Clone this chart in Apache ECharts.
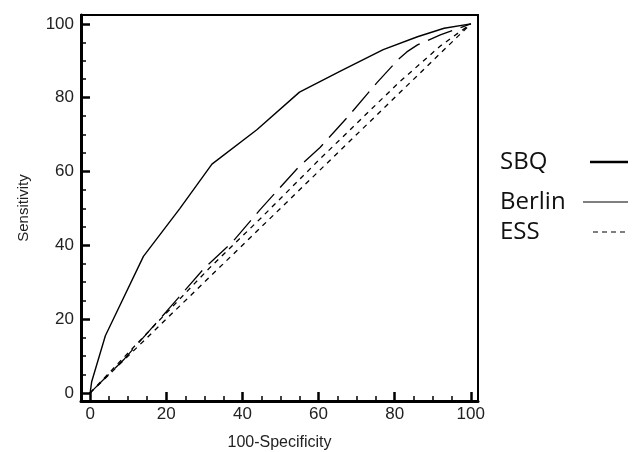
<!DOCTYPE html>
<html>
<head>
<meta charset="utf-8">
<script src="https://cdn.jsdelivr.net/npm/echarts@6/dist/echarts.min.js"></script>
<style>html,body{margin:0;padding:0;background:#fff}#c{width:633px;height:452px}</style>
</head>
<body>
<div id="c"></div>
<script>
// ---- data ----
const sbqX = [0, 0.4, 4, 14, 23.6, 32, 43.8, 55, 66, 77, 86, 93, 100];
const sbqY = [0, 3, 15.5, 37, 50, 62, 71.3, 81.5, 87.3, 93, 96.5, 98.8, 100];
const berlinX = [0, 9, 20, 30, 37.5, 44.6, 54.6, 60.4, 67.7, 75.3, 80.8, 83.2, 86, 92, 100];
const berlinY = [0, 9.2, 22, 33.8, 41, 49.6, 61, 66.5, 74.8, 84, 90.2, 92.4, 94.3, 97, 100];
const essX = [0, 12, 31.5, 45, 60, 81, 92, 100];
const essY = [0, 13, 34, 47.5, 63, 84, 94, 100];
const chanceX = [0, 100];
const chanceY = [0, 100];
const majorTicks = [0, 20, 40, 60, 80, 100];
const minorTicks = [5, 10, 15, 25, 30, 35, 45, 50, 55, 65, 70, 75, 85, 90, 95];
const seriesNames = ['SBQ', 'Berlin', 'ESS'];

const zip = (xs, ys) => xs.map((x, i) => [x, ys[i]]);
const X_MIN = -2.4, X_MAX = 101.9, Y_MIN = -2.2, Y_MAX = 102.4;
const labelFont = {fontFamily: 'Liberation Sans, Arial, sans-serif', fontSize: 17, color: '#222'};
const LEG_FONT = 'Open Sans';
const LEG_SIZE = 24;

const ctx = document.createElement('canvas').getContext('2d');
ctx.font = LEG_SIZE + 'px "' + LEG_FONT + '"';
const textW = s => ctx.measureText(s).width;

const chart = echarts.init(document.getElementById('c'), null, {renderer: 'canvas'});

// text starts at x=500, line sample from iconStart to 628
function legendFor(name, top, iconStart, padBottom, lineStyle) {
  const pad = Math.max(0, iconStart - 5 - 500 - textW(name));
  return {
    data: [{name: name, lineStyle: lineStyle,
            itemStyle: {color: 'rgba(0,0,0,0)', borderColor: 'rgba(0,0,0,0)', borderWidth: 0}}],
    orient: 'vertical',
    align: 'right',
    left: 500,
    top: top,
    itemWidth: 628 - iconStart,
    itemHeight: 14,
    padding: 0,
    selectedMode: false,
    textStyle: {fontFamily: LEG_FONT, fontSize: LEG_SIZE, color: '#111', padding: [0, pad, padBottom, 0]}
  };
}

const gridBox = {left: 81, right: 155, top: 15, bottom: 51, outerBoundsMode: 'none', containLabel: false};
const minorAxis = (extra) => Object.assign({
  type: 'value', gridIndex: 1,
  axisLine: {show: false, onZero: false},
  axisTick: {show: true, inside: true, length: 5, customValues: minorTicks, lineStyle: {color: '#000', width: 1.5}},
  axisLabel: {show: false},
  splitLine: {show: false}
}, extra);

chart.setOption({
  animation: false,
  backgroundColor: '#fff',
  grid: [
    Object.assign({show: true, borderColor: '#000', borderWidth: 2, backgroundColor: 'transparent'}, gridBox),
    Object.assign({show: false}, gridBox)
  ],
  legend: [
    legendFor('SBQ', 150, 590, 6, {width: 2.6, type: 'solid', color: '#000'}),
    legendFor('Berlin', 190, 583, 2, {width: 1.2, type: 'solid', color: '#000'}),
    legendFor('ESS', 220, 593, 14, {width: 1.2, type: [5, 4], color: '#000'})
  ],
  xAxis: [{
    type: 'value', gridIndex: 0, min: X_MIN, max: X_MAX, position: 'bottom',
    name: '100-Specificity', nameLocation: 'middle', nameGap: 34,
    nameTextStyle: {fontFamily: 'Liberation Sans, Arial, sans-serif', fontSize: 16, color: '#222'},
    axisLine: {show: true, onZero: false, lineStyle: {color: '#000', width: 3}},
    axisTick: {show: true, inside: true, length: 9, customValues: majorTicks, lineStyle: {color: '#000', width: 2.5}},
    axisLabel: Object.assign({show: true, margin: 5, customValues: majorTicks}, labelFont),
    splitLine: {show: false}
  }, minorAxis({min: X_MIN, max: X_MAX, position: 'bottom'})],
  yAxis: [{
    type: 'value', gridIndex: 0, min: Y_MIN, max: Y_MAX, position: 'left',
    name: 'Sensitivity', nameLocation: 'middle', nameGap: 50, nameRotate: 90,
    nameTextStyle: {fontFamily: 'Liberation Sans, Arial, sans-serif', fontSize: 15, color: '#222'},
    axisLine: {show: true, onZero: false, lineStyle: {color: '#000', width: 3}},
    axisTick: {show: true, inside: true, length: 9, customValues: majorTicks, lineStyle: {color: '#000', width: 2.5}},
    axisLabel: Object.assign({show: true, margin: 7, customValues: majorTicks}, labelFont),
    splitLine: {show: false}
  }, minorAxis({min: Y_MIN, max: Y_MAX, position: 'left'})],
  series: [
    {name: seriesNames[0], type: 'line', data: zip(sbqX, sbqY), showSymbol: false, symbol: 'none',
     lineStyle: {color: '#000', width: 1.4, type: 'solid'}, itemStyle: {color: '#000'}},
    {name: seriesNames[1], type: 'line', data: zip(berlinX, berlinY), showSymbol: false, symbol: 'none',
     lineStyle: {color: '#000', width: 1.3, type: [26, 9]}, itemStyle: {color: '#000'}},
    {name: seriesNames[2], type: 'line', data: zip(essX, essY), showSymbol: false, symbol: 'none',
     lineStyle: {color: '#000', width: 1.3, type: [5, 5]}, itemStyle: {color: '#000'}},
    {name: 'Reference', type: 'line', data: zip(chanceX, chanceY), showSymbol: false, symbol: 'none',
     lineStyle: {color: '#000', width: 1.3, type: [5, 5]}, itemStyle: {color: '#000'}}
  ]
});
</script>
</body>
</html>
